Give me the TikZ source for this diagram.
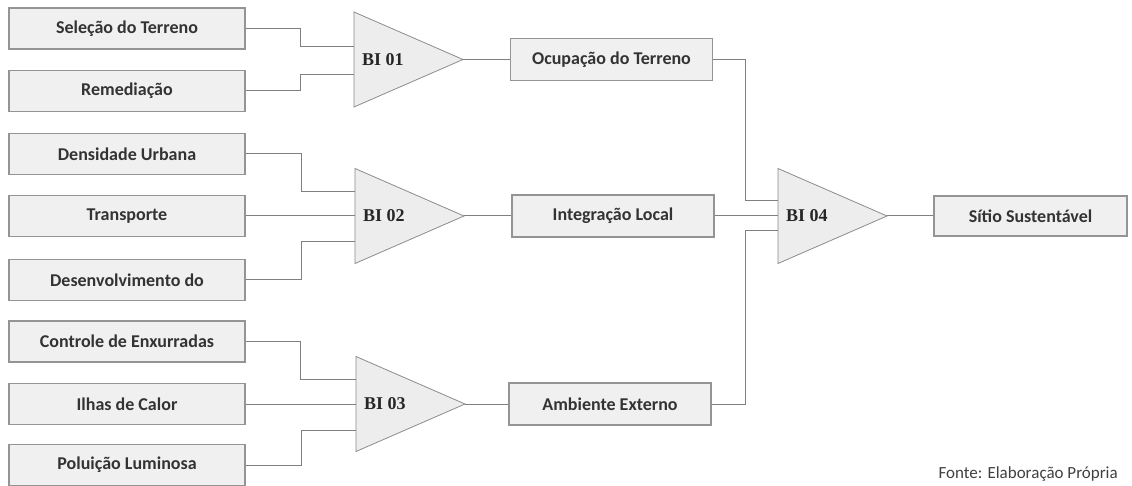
\documentclass[tikz,border=0pt]{standalone}
\usepackage{fontspec}
\setmainfont{Carlito}
\newfontfamily\biserif{Liberation Serif}
\begin{document}
\begin{tikzpicture}[x=1pt,y=-1pt,
  box/.style={draw=black!42, fill=black!6, line width=1.1pt, inner sep=0pt,
    font=\fontsize{18}{20}\selectfont\bfseries, text=black!80},
  lbox/.style={box, minimum width=236pt, minimum height=41pt},
  mbox/.style={box, minimum width=202pt, minimum height=42pt},
  gate/.style={draw=black!45, fill=black!7, line width=0.8pt, line join=miter},
  gatelabel/.style={anchor=west, inner sep=0pt, font=\biserif\fontsize{18}{20}\selectfont\bfseries, text=black!85},
  wire/.style={draw=black!50, line width=1pt}]
\useasboundingbox (0,0) rectangle (1132,486);

% input boxes
\node[lbox] (sel) at (127,28.5) {Seleção do Terreno};
\node[lbox] (rem) at (127,91) {Remediação};
\node[lbox] (den) at (127,154) {Densidade Urbana};
\node[lbox] (tra) at (127,216) {Transporte};
\node[lbox] (des) at (127,280) {Desenvolvimento do};
\node[lbox] (con) at (127,341.5) {Controle de Enxurradas};
\node[lbox] (ilh) at (127,404) {Ilhas de Calor};
\node[lbox] (pol) at (127,465) {Poluição  Luminosa};

% intermediate and final boxes
\node[mbox] (ocu) at (611.5,59.5) {Ocupação do Terreno};
\node[mbox] (int) at (613,216) {Integração Local};
\node[mbox] (amb) at (610,404) {Ambiente Externo};
\node[box, minimum width=193pt, minimum height=40pt] (sit) at (1030.5,216) {Sítio Sustentável};

% gates: left edge, centre height, tip
\newcommand{\gateshape}[4]{%
  \draw[gate] (#2,#3-47.5) -- (#2+109,#3) -- (#2,#3+47.5) -- cycle;
  \coordinate (#1tip) at (#2+109,#3);
  \node[gatelabel] (#1lab) at (#2+8,#3) {#4};}
\gateshape{g1}{354}{59.5}{BI 01}
\gateshape{g2}{355}{216}{BI 02}
\gateshape{g3}{356}{404}{BI 03}
\gateshape{g4}{778}{216}{BI 04}

% gate input points
\coordinate (g1a) at (354,47);
\coordinate (g1b) at (354,75);
\coordinate (g2a) at (355,192);
\coordinate (g2b) at (355,216);
\coordinate (g2c) at (355,242);
\coordinate (g3a) at (356,379);
\coordinate (g3b) at (356,404);
\coordinate (g3c) at (356,430);
\coordinate (g4a) at (778,201);
\coordinate (g4b) at (778,216);
\coordinate (g4c) at (778,231);

% wires into the gates
\draw[wire] (sel.east) -- (300,28.5) |- (g1a);
\draw[wire] (rem.east) -- (300,91) |- (g1b);
\draw[wire] (den.east) -- (301,154) |- (g2a);
\draw[wire] (tra.east) -- (g2b);
\draw[wire] (des.east) -- (301,280) |- (g2c);
\draw[wire] (con.east) -- (300,341.5) |- (g3a);
\draw[wire] (ilh.east) -- (g3b);
\draw[wire] (pol.east) -- (301,465) |- (g3c);
\draw[wire] (ocu.east) -- (745,59.5) |- (g4a);
\draw[wire] (int.east) -- (g4b);
\draw[wire] (amb.east) -- (745,404) |- (g4c);

% wires out of the gates
\draw[wire] (g1tip) -- (ocu.west);
\draw[wire] (g2tip) -- (int.west);
\draw[wire] (g3tip) -- (amb.west);
\draw[wire] (g4tip) -- (sit.west);

\node[anchor=east, inner sep=0pt, font=\fontsize{17}{19}\selectfont, text=black!75] (src) at (1118,474) {Fonte: Elaboração Própria};
\end{tikzpicture}
\end{document}
